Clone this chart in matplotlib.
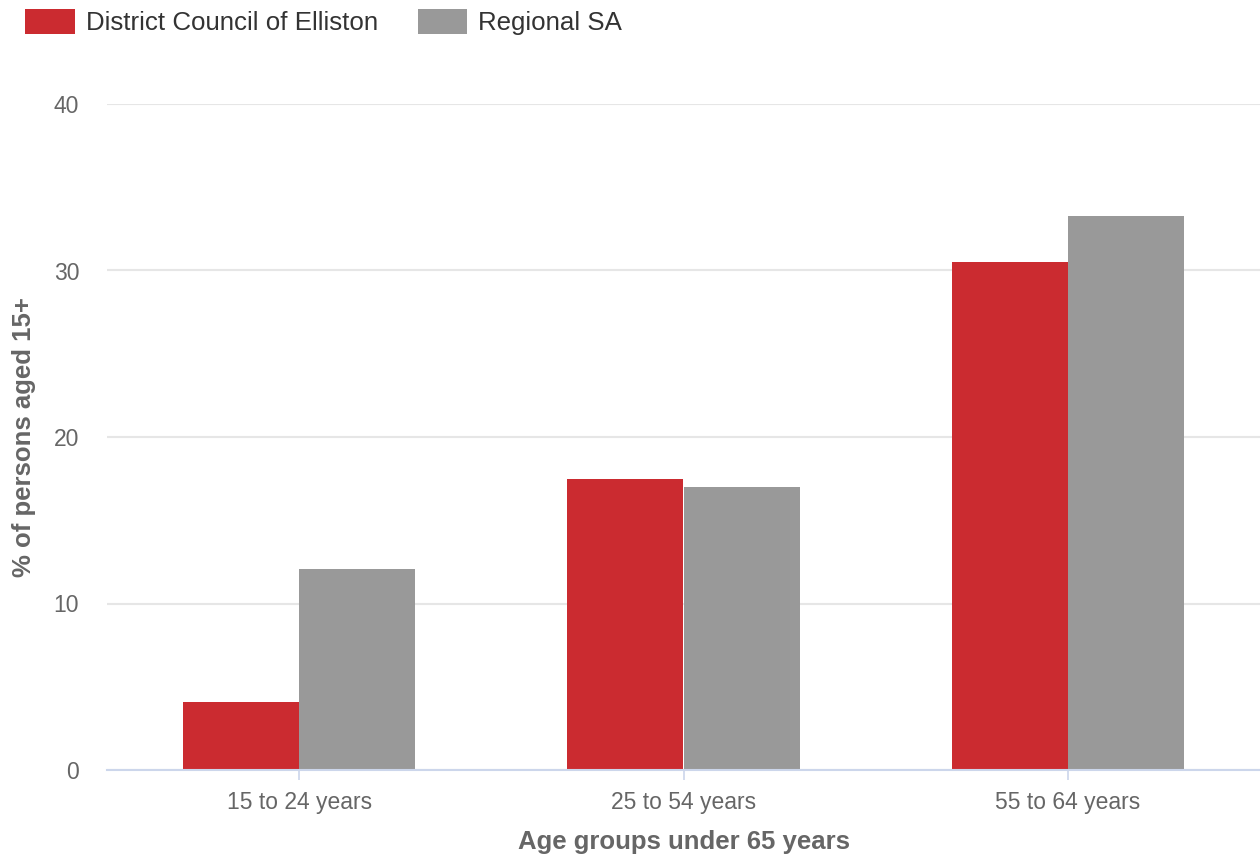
import numpy as np
import matplotlib.pyplot as plt
from matplotlib.patches import Patch

plt.rcParams['font.family'] = ['Liberation Sans', 'DejaVu Sans']

# 数据
groups = ['15 to 24 years', '25 to 54 years', '55 to 64 years']
series_names = ['District Council of Elliston', 'Regional SA']
elliston = [4.1, 17.5, 30.5]
regional = [12.1, 17.0, 33.3]
colors = ['#cb2b30', '#999999']

fig = plt.figure(figsize=(12.6, 8.59), dpi=100)
ax = fig.add_axes([107 / 1260, 89 / 859, 1 - 107 / 1260, 666 / 859])

x = np.arange(len(groups))
w = 0.302
ax.bar(x - w / 2, elliston, width=w, color=colors[0], linewidth=0,
       antialiased=False, zorder=3)
ax.bar(x + w / 2, regional, width=w, color=colors[1], linewidth=0,
       antialiased=False, zorder=3)

ax.set_xlim(-0.5, len(groups) - 0.5)
ax.set_ylim(0, 40)
ax.set_yticks([0, 10, 20, 30, 40])
ax.set_xticks(x)
ax.set_xticklabels(groups)

# 网格和坐标轴
ax.yaxis.grid(True, color='#e6e6e6', linewidth=1.5, zorder=0)
ax.set_axisbelow(True)
for s in ['top', 'right', 'left']:
    ax.spines[s].set_visible(False)
ax.spines['bottom'].set_color('#ccd6eb')
ax.spines['bottom'].set_linewidth(1.5)
ax.spines['bottom'].set_zorder(4)

ax.tick_params(axis='x', colors='#ccd6eb', length=7.5, width=1.2, pad=7.5,
               labelcolor='#666666', labelsize=16.5)
ax.tick_params(axis='y', length=0, pad=20, labelcolor='#666666', labelsize=16.5)

ax.set_xlabel('Age groups under 65 years', fontsize=18.5, fontweight='bold',
              color='#666666', labelpad=12)
ax.set_ylabel('% of persons aged 15+', fontsize=18.5, fontweight='bold',
              color='#666666', labelpad=13)

handles = [Patch(facecolor=c, edgecolor='none') for c in colors]
fig.legend(handles, series_names, loc='upper left',
           bbox_to_anchor=(25 / 1260, 1 - 9 / 859), ncol=2, frameon=False,
           fontsize=18.6, labelcolor='#333333', borderpad=0, borderaxespad=0,
           handlelength=1.93, handleheight=1.1, handletextpad=0.42,
           columnspacing=1.54)

fig.savefig('out.png', dpi=100)
